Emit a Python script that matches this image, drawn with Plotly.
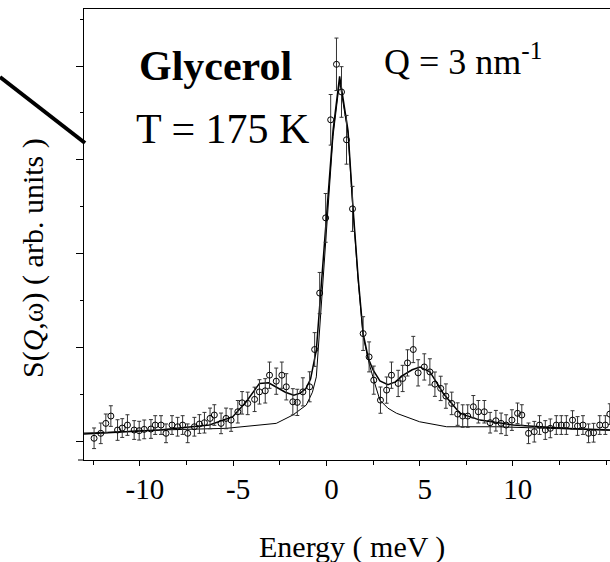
import plotly.graph_objects as go

# ---- data ----
energy_pts = [-12.46, -12.10, -11.83, -11.56, -11.20, -10.95, -10.67, -10.31, -10.04, -9.77,
              -9.41, -9.18, -8.87, -8.60, -8.28, -7.98, -7.71, -7.44, -7.08, -6.81,
              -6.54, -6.24, -6.01, -5.65, -5.38, -5.11, -4.75, -4.52, -4.22, -3.85,
              -3.59, -3.28, -3.05, -2.69, -2.39, -2.15, -1.80, -1.56, -1.26, -0.90,
              -0.63, -0.36, -0.04, 0.23, 0.54, 0.81, 1.08, 1.40, 1.97, 2.29,
              2.54, 2.90, 3.23, 3.49, 3.85, 4.09, 4.35, 4.66, 4.92, 5.25,
              5.55, 5.82, 6.13, 6.41, 6.72, 7.04, 7.31, 7.58, 7.88, 8.15,
              8.47, 8.78, 9.09, 9.37, 9.64, 9.95, 10.25, 10.48, 10.84, 11.15,
              11.43, 11.74, 12.01, 12.33, 12.60, 12.87, 13.20, 13.47, 13.76, 14.06,
              14.33, 14.66, 14.96, 15.20]
s_pts = [0.029, 0.082, 0.188, 0.266, 0.117, 0.138, 0.170, 0.117, 0.110, 0.124,
         0.128, 0.170, 0.170, 0.082, 0.170, 0.152, 0.170, 0.082, 0.152, 0.181,
         0.195, 0.241, 0.277, 0.188, 0.241, 0.223, 0.312, 0.407, 0.401, 0.444,
         0.524, 0.535, 0.702, 0.638, 0.702, 0.578, 0.418, 0.412, 0.524, 0.578,
         0.976, 1.578, 2.380, 3.426, 4.018, 3.723, 3.213, 2.476, 1.146, 0.897,
         0.649, 0.436, 0.543, 0.702, 0.614, 0.667, 0.833, 0.976, 0.727, 0.790,
         0.737, 0.606, 0.561, 0.479, 0.401, 0.287, 0.266, 0.266, 0.365, 0.312,
         0.312, 0.195, 0.216, 0.188, 0.170, 0.223, 0.295, 0.277, 0.082, 0.099,
         0.170, 0.117, 0.135, 0.170, 0.170, 0.170, 0.223, 0.160, 0.170, 0.082,
         0.088, 0.170, 0.170, 0.287]
s_err = [0.11, 0.11, 0.10, 0.11, 0.11, 0.10, 0.11, 0.10, 0.10, 0.10,
         0.10, 0.10, 0.10, 0.10, 0.10, 0.10, 0.10, 0.10, 0.10, 0.10,
         0.11, 0.11, 0.11, 0.11, 0.11, 0.12, 0.12, 0.12, 0.12, 0.13,
         0.13, 0.13, 0.14, 0.14, 0.14, 0.14, 0.14, 0.14, 0.15, 0.16,
         0.18, 0.22, 0.26, 0.27, 0.28, 0.27, 0.26, 0.24, 0.18, 0.16,
         0.15, 0.14, 0.14, 0.14, 0.14, 0.14, 0.14, 0.14, 0.14, 0.14,
         0.14, 0.13, 0.13, 0.13, 0.12, 0.12, 0.12, 0.12, 0.12, 0.12,
         0.12, 0.11, 0.11, 0.11, 0.11, 0.11, 0.11, 0.11, 0.11, 0.11,
         0.10, 0.10, 0.10, 0.10, 0.10, 0.10, 0.10, 0.10, 0.10, 0.10,
         0.10, 0.10, 0.10, 0.11]

fit_E = [-13.0, -12.37, -8.96, -6.27, -5.02, -4.30, -3.59, -3.10, -2.69, -2.20, -1.75, -1.40,
         -1.10, -0.85, -0.54, -0.27, 0.0, 0.355, 0.71, 1.16, 1.43, 1.70, 1.97, 2.25,
         2.51, 2.87, 3.30, 3.70, 4.12, 4.60, 5.02, 5.55, 6.27, 7.17, 8.24, 10.03, 12.72, 15.21]
fit_S = [0.075, 0.082, 0.117, 0.170, 0.259, 0.418, 0.614, 0.620, 0.578, 0.520, 0.489, 0.510,
         0.560, 0.660, 0.968, 1.65, 2.386, 3.31, 3.89, 3.31, 2.48, 1.75, 1.146, 0.880,
         0.755, 0.640, 0.600, 0.630, 0.702, 0.760, 0.790, 0.739, 0.507, 0.294, 0.223, 0.170, 0.135, 0.117]

qe_E = [-13.0, -12.37, -8.96, -5.38, -2.69, -1.80, -1.08, -0.75, -0.54, -0.27, 0.0, 0.355,
        0.71, 1.16, 1.43, 1.70, 1.97, 2.30, 2.60, 2.87, 3.30, 3.76, 5.0, 6.45,
        9.14, 11.83, 14.5, 15.21]
qe_S = [0.085, 0.088, 0.117, 0.135, 0.188, 0.277, 0.383, 0.520, 0.684, 1.45, 2.30, 3.25,
        3.84, 3.28, 2.45, 1.72, 1.12, 0.820, 0.610, 0.436, 0.350, 0.296, 0.205, 0.152,
        0.152, 0.135, 0.117, 0.115]

x_tickvals = [-10, -5, 0, 5, 10]
x_ticktext = ["-10", "-5", "0", "5", "10"]
x_range = [-13.0, 15.21]
y_range = [-0.2027, 4.608]

# ---- layout helpers (pixel -> paper) ----
W, H = 610, 562
ML, MR, MT, MB = 84, 0, 9, 102
PW, PH = W - ML - MR, H - MT - MB


def px(x):
    return (x - ML) / PW


def py(y):
    return (H - MB - y) / PH


SERIF = "Liberation Serif"

fig = go.Figure()
fig.add_trace(go.Scatter(x=qe_E, y=qe_S, mode="lines",
                         line=dict(color="black", width=1), showlegend=False))
fig.add_trace(go.Scatter(x=fit_E, y=fit_S, mode="lines",
                         line=dict(color="black", width=1.5), showlegend=False))
fig.add_trace(go.Scatter(x=energy_pts, y=s_pts, mode="markers",
                         marker=dict(symbol="circle-open", size=6, color="black",
                                     line=dict(width=1, color="black")),
                         error_y=dict(type="data", array=s_err, visible=True,
                                      color="#333", thickness=1, width=2),
                         showlegend=False, cliponaxis=False))

fig.update_layout(
    width=W, height=H,
    margin=dict(l=ML, r=MR, t=MT, b=MB, pad=0),
    paper_bgcolor="white", plot_bgcolor="white",
    font=dict(family=SERIF, color="black"),
    xaxis=dict(range=x_range, showgrid=False, zeroline=False,
               showline=True, linecolor="black", linewidth=1, mirror=True,
               ticks="outside", ticklen=5, tickwidth=1, tickcolor="black",
               tickmode="array", tickvals=x_tickvals, ticktext=x_ticktext,
               ticklabelstandoff=-2, ticklabelshift=5,
               tickfont=dict(family=SERIF, size=29, color="black"),
               minor=dict(ticks="outside", ticklen=4, tickcolor="black",
                          tickmode="linear", tick0=0, dtick=2.5, showgrid=False)),
    yaxis=dict(range=y_range, showgrid=False, zeroline=False,
               showline=True, linecolor="black", linewidth=1, mirror=False,
               ticks="outside", ticklen=7, tickwidth=1, tickcolor="black",
               tickmode="linear", tick0=0, dtick=1, showticklabels=False,
               minor=dict(ticks="outside", ticklen=3.5, tickcolor="black",
                          tickmode="linear", tick0=0, dtick=0.5, showgrid=False)),
)

annots = [
    dict(text="<b>Glycerol</b>", x=px(137), y=py(66), xanchor="left", yanchor="middle",
         font=dict(size=42)),
    dict(text="T = 175 K", x=px(134), y=py(129), xanchor="left", yanchor="middle",
         font=dict(size=42)),
    dict(text="Q = 3 nm<sup>-1</sup>", x=px(382), y=py(60), xanchor="left", yanchor="middle",
         font=dict(size=36)),
    dict(text="Energy ( meV )", x=px(352), y=py(547), xanchor="center", yanchor="middle",
         font=dict(size=30)),
    dict(text="S(<i>Q</i>,ω) ( arb. units )", x=px(33), y=py(258), xanchor="center",
         yanchor="middle", textangle=-90, font=dict(size=30)),
]
for a in annots:
    a.update(xref="paper", yref="paper", showarrow=False)
    a["font"]["family"] = SERIF
    a["font"]["color"] = "black"
fig.update_layout(annotations=annots)

fig.add_shape(type="line", xref="paper", yref="paper",
              x0=px(0), y0=py(77), x1=px(85), y1=py(143),
              line=dict(color="black", width=4))
fig.add_shape(type="line", xref="paper", yref="paper",
              x0=px(78), y0=0, x1=0, y1=0,
              line=dict(color="black", width=1))

fig.write_html("out.html", config={"displayModeBar": False},
               post_script="document.body.style.margin='0';document.body.style.overflow='hidden';")
